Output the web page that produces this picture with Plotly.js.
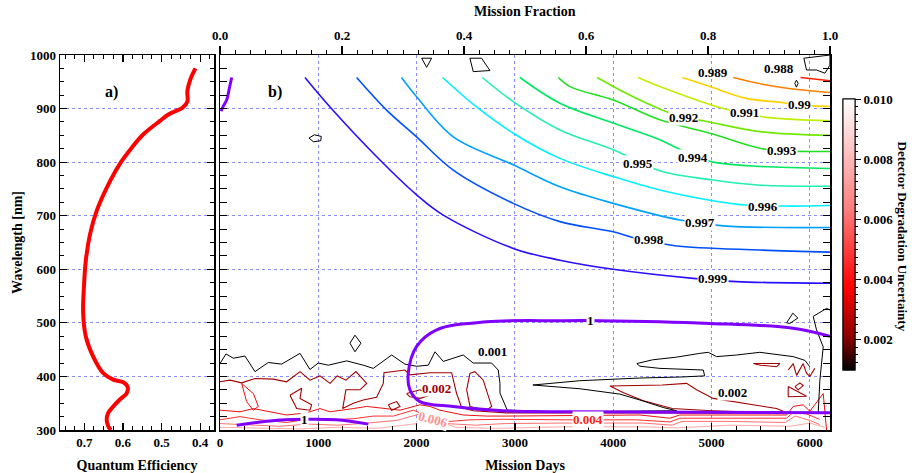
<!DOCTYPE html>
<html><head><meta charset="utf-8">
<script src="https://cdn.plot.ly/plotly-3.0.1.min.js"></script>
<style>html,body{margin:0;padding:0;background:#fff}</style>
</head><body><div id="chart" style="width:923px;height:473px"></div>
<script>
// ---------- Panel a) quantum efficiency ----------
const qeNm  = [975,955,933,913,902,889,877,852,827,800,765,709,666,617,567,518,474,437,406,394,389,381,369,357,344,332,320,307,300];
const qeVal = [0.412,0.425,0.433,0.433,0.445,0.482,0.504,0.547,0.577,0.605,0.633,0.668,0.685,0.696,0.701,0.703,0.696,0.677,0.651,0.625,0.599,0.588,0.590,0.608,0.625,0.638,0.642,0.638,0.631];

// ---------- Panel b) degradation contours (days, nm) ----------
const d1000_days = [6205,5830,4983,3865,3458,2712,2204,2000,1915,1932,2034,2373,2881,3560,6205];
const d1000_nm   = [475,490,499,504,504,502,487,456,406,375,353,344,336,334,332];
const d1000b_days = [170,509,847,1187,1509];
const d1000b_nm   = [309,317,320,319,311];
const d1000c_days = [10,35,68,95,119];
const d1000c_nm   = [895,905,916,938,958];
const d0999_days = [864,1119,1627,2000,2271,2983,3458,4000,4813,5254,6205];
const d0999_nm   = [958,903,804,739,701,639,617,600,583,577,574];
const d0998_days = [1390,1695,2000,2373,2983,3458,4000,4250,4627,5491,6205];
const d0998_nm   = [958,897,847,785,723,689,670,657,644,636,632];
const d0997_days = [1846,2000,2373,2983,3458,4000,4678,5119,6205];
const d0997_nm   = [958,922,847,795,754,723,692,681,678];
const d0996_days = [2264,2610,2983,3458,4000,4474,4983,5339,5763,6205];
const d0996_nm   = [958,903,854,807,773,748,729,720,718,719];
const d0995_days = [2668,2983,3458,4000,4474,5000,5491,6205];
const d0995_nm   = [958,913,860,823,784,767,757,755];
const d0994_days = [3051,3458,4000,4474,4813,5017,5491,6205];
const d0994_nm   = [958,910,873,842,812,800,792,788];
const d0993_days = [3441,3560,4000,4474,4983,5491,5712,6205];
const d0993_nm   = [958,941,916,879,854,826,821,820];
const d0992_days = [3837,4136,4491,4712,4949,5491,6205];
const d0992_nm   = [958,928,898,884,876,857,850];
const d0991_days = [4254,4474,5119,5339,5542,6205];
const d0991_nm   = [958,941,900,892,884,877];
const d0990_days = [4703,4983,5356,5729,5898,6051,6205];
const d0990_nm   = [958,941,919,911,907,905,904];
const d0989_days = [5220,5560,5898,6205];
const d0989_nm   = [958,944,935,930];
const d0988_days = [5905,6205];
const d0988_nm   = [958,952];

// ---------- Panel b) uncertainty contours (days, nm) ----------
const u001a_days = [0,61,135,254,356,491,627,814,915,1000,1101,1289,1457,1559,1746,1881,2000,2119,2187,2271,2474,2576,2763,2830,2848,2848,2922,3458,4644,4508,4271,4068,3661,3183,3661,4271,4700,4930,4916,4475,4272,4240,4400,4644,4881,4966,5051,5254,5491,5831,5950,6000];
const u001a_nm   = [424,442,434,438,409,426,423,443,413,425,421,429,421,415,440,423,419,421,446,428,440,425,425,412,387,369,337,334,336,342,356,367,377,384,392,397,399,401,412,415,419,424,431,436,443,445,437,440,445,437,430,418];
const u001b_days = [6085,6102,6136,6068,6034,6170,6205];
const u001b_nm   = [331,393,455,487,512,527,524];
const u001c_days = [905,960,1030,1025,950,905];
const u001c_nm   = [845,851,848,840,838,845];
const u001d_days = [2051,2153,2102,2051];
const u001d_nm   = [994,994,977,994];
const u001e_days = [2542,2661,2746,2576,2542];
const u001e_nm   = [994,994,971,969,994];
const u001f_days = [5939,6205,6204,6153,6068,5966,5939];
const u001f_nm   = [994,1000,981,966,972,972,994];
const u001g_days = [5864,5847,5864,5881,5864];
const u001g_nm   = [953,947,940,947,953];
const u001h_days = [1373,1434,1373,1322,1373];
const u001h_nm   = [477,462,446,462,477];
const u001i_days = [5763,5827,5878,5797,5763];
const u001i_nm   = [500,518,509,499,500];

const u002a_days = [0,102,220,356,542,678,814,915,1017,1119,1193,1281,1383,1492,1424,1281,1248,1356,1458,1593,1661,1668,1881,1932,2136,2356,2407,2458,2576,2915,4271,6000];
const u002a_nm   = [390,393,388,396,395,390,409,393,401,387,401,393,409,387,375,375,340,350,356,361,387,407,412,403,407,407,368,342,336,332,332,331];
const u002b_days = [2543,2593,2678,2729,2763,2712,2543,2509,2543];
const u002b_nm   = [406,409,393,362,344,337,344,375,406];
const u002c_days = [712,831,814,932,915,780,712];
const u002c_nm   = [365,378,359,347,337,340,365];
const u002d_days = [1712,1797,1831,1746,1712];
const u002d_nm   = [347,353,344,337,347];
const u002e_days = [1898,2034,2136,2034,1932,1898];
const u002e_nm   = [368,375,365,359,362,368];
const u002f_days = [3966,4500,4746,4848,5017,5661,5729,5500,5000,4600,4300,4100,3966];
const u002f_nm   = [382,384,387,375,359,340,335,333,336,340,355,370,382];
const u002g_days = [5424,5695,5661,5500,5424];
const u002g_nm   = [424,424,418,421,424];
const u002h_days = [5780,5831,5865,5932,5966,6000,6050];
const u002h_nm   = [412,424,402,424,406,400,415];
const u002i_days = [5780,5780,5966,5780];
const u002i_nm   = [381,362,363,381];
const u002j_days = [5848,5899,5932,5882,5848];
const u002j_nm   = [381,388,383,375,381];

const u003a_days = [220,339,390,339,271,237,220];
const u003a_nm   = [387,368,344,337,353,375,387];
const u003b_days = [0,203,339,508,678,881,1017,1119,1254,1356,1492,1661,1831,2034,2136,2237,2475,2712,2915,4271,4576,4678,5085,5763,5831,5932,6000,6136,6170];
const u003b_nm   = [337,334,340,334,328,332,340,334,337,340,344,340,337,347,344,337,328,326,326,328,322,328,328,328,344,347,335,368,300];
const u004_days  = [0,203,407,678,881,1119,1356,1559,1763,1966,2136,2339,2543,2881,3500,4237,4576,4678,5085,5763,5831,5966,6100];
const u004_nm    = [319,325,319,314,320,319,321,326,326,337,325,316,319,320,319,319,315,322,322,322,333,330,320];
const u005_days  = [0,300,600,900,1200,1500,1800,2034,2300,2600,2900,3500,4300,4600,4700,5200,5750,5850,6000,6100];
const u005_nm    = [312,310,307,311,309,313,318,330,312,309,312,313,313,309,316,316,314,326,318,310];
const u006_days  = [0,400,800,1200,1600,2000,2170,2400,2800,3500,4300,4650,5200,5800,6000,6150];
const u006_nm    = [305,304,302,305,303,312,319,305,303,306,306,304,309,307,313,305];

// ---------- contour labels ----------
const degLabelText = ['0.999','0.998','0.997','0.996','0.995','0.994','0.993','0.992','0.991','0.99','0.989','0.988','1','1'];
const degLabelDays = [5015,4366,4881,5526,4254,4813,5712,4712,5339,5898,5017,5689,3770,864];
const degLabelNm   = [582,655,687,718,798,809,821,884,892,907,968,975,505,320];
const uncLabelText = ['0.001','0.002','0.002','0.004','0.006'];
const uncLabelVal  = [0.001,0.002,0.002,0.004,0.006];
const uncLabelDays = [2772,2204,5213,3746,2170];
const uncLabelNm   = [446,378,370,319,319];
const uncLabelColor = ['#000000','#a00000','#000000','#ff2020','#ff9090'];

// ---------- ticks ----------
const cbMajorTicks = [0.002,0.004,0.006,0.008,0.010];
const cbMinorTicks = [0.00125,0.0015,0.00175,0.00225,0.0025,0.00275,0.003,0.00325,0.0035,0.00375,0.00425,0.0045,0.00475,0.005,0.00525,0.0055,0.00575,0.00625,0.0065,0.00675,0.007,0.00725,0.0075,0.00775,0.00825,0.0085,0.00875,0.009,0.00925,0.0095,0.00975];
const fractionRange = [0,1];

// ---------- build ----------
const FAM = '"Liberation Serif", "Times New Roman", serif';
const F = {family:FAM, size:13, color:'#000', weight:'bold'};
const traces = [];

traces.push({x:qeVal, y:qeNm, xaxis:'x', yaxis:'y', mode:'lines', line:{color:'#ff0000', width:4, shape:'spline', smoothing:1}, hoverinfo:'skip', showlegend:false});

function addLine(xs, ys, color, width, smooth){
  traces.push({x:xs, y:ys, xaxis:'x2', yaxis:'y2', mode:'lines',
    line:{color:color, width:width, shape: smooth ? 'spline' : 'linear', smoothing: 1},
    hoverinfo:'skip', showlegend:false});
}
// uncertainty first (below)
addLine(u006_days,u006_nm,'#ffaaaa',1,false);
addLine(u005_days,u005_nm,'#ff7070',1,false);
addLine(u004_days,u004_nm,'#ff3030',1,false);
addLine(u003a_days,u003a_nm,'#ee1010',1,false);
addLine(u003b_days,u003b_nm,'#ee1010',1,false);
[[u002a_days,u002a_nm],[u002b_days,u002b_nm],[u002c_days,u002c_nm],[u002d_days,u002d_nm],[u002e_days,u002e_nm],[u002f_days,u002f_nm],[u002g_days,u002g_nm],[u002h_days,u002h_nm],[u002i_days,u002i_nm],[u002j_days,u002j_nm]]
  .forEach(p=>addLine(p[0],p[1],'#a00000',1.1,false));
[[u001a_days,u001a_nm],[u001b_days,u001b_nm],[u001c_days,u001c_nm],[u001d_days,u001d_nm],[u001e_days,u001e_nm],[u001f_days,u001f_nm],[u001g_days,u001g_nm],[u001h_days,u001h_nm],[u001i_days,u001i_nm]]
  .forEach(p=>addLine(p[0],p[1],'#000000',1,false));
// degradation
addLine(d0999_days,d0999_nm,'#2a10ff',1.6,true);
addLine(d0998_days,d0998_nm,'#0050ff',1.6,true);
addLine(d0997_days,d0997_nm,'#00a0ff',1.6,true);
addLine(d0996_days,d0996_nm,'#00f0ff',1.6,true);
addLine(d0995_days,d0995_nm,'#20f0b0',1.6,true);
addLine(d0994_days,d0994_nm,'#00e860',1.6,true);
addLine(d0993_days,d0993_nm,'#20e020',1.6,true);
addLine(d0992_days,d0992_nm,'#70e800',1.6,true);
addLine(d0991_days,d0991_nm,'#c0f000',1.6,true);
addLine(d0990_days,d0990_nm,'#ffd000',1.6,true);
addLine(d0989_days,d0989_nm,'#ff8000',1.6,true);
addLine(d0988_days,d0988_nm,'#ff2000',1.6,true);
addLine(d1000_days,d1000_nm,'#8000ff',3,true);
addLine(d1000b_days,d1000b_nm,'#8000ff',3,true);
addLine(d1000c_days,d1000c_nm,'#8000ff',3,true);

// colour bar carriers (invisible markers at uncertainty label positions)
const cscale = [[0,'#000000'],[0.12,'#8b0000'],[0.3,'#ff0000'],[0.6,'#ff8080'],[1,'#ffffff']];
const cbBase = {x:843/923, xanchor:'left', xpad:0, ypad:0, y:1-234.5/473, yanchor:'middle',
  len:271, lenmode:'pixels', thickness:12, thicknessmode:'pixels', outlinewidth:1, outlinecolor:'#000', ticks:'outside', tickcolor:'#000'};
traces.push({x:uncLabelDays, y:uncLabelNm, xaxis:'x2', yaxis:'y2', mode:'markers', hoverinfo:'skip', showlegend:false,
  marker:{color:uncLabelVal, cmin:0.001, cmax:0.010, colorscale:cscale, opacity:0, showscale:true,
    colorbar:Object.assign({}, cbBase, {tickmode:'array', tickvals:cbMinorTicks, ticktext:cbMinorTicks.map(()=>''), ticklen:3})}});
traces.push({x:uncLabelDays, y:uncLabelNm, xaxis:'x2', yaxis:'y2', mode:'markers', hoverinfo:'skip', showlegend:false,
  marker:{color:uncLabelVal, cmin:0.001, cmax:0.010, colorscale:cscale, opacity:0, showscale:true,
    colorbar:Object.assign({}, cbBase, {tickmode:'array', tickvals:cbMajorTicks, ticktext:cbMajorTicks.map(v=>v.toFixed(3)), ticklen:6, tickfont:F})}});
// top axis carrier
traces.push({x:fractionRange, y:[null,null], xaxis:'x3', yaxis:'y2', mode:'lines', hoverinfo:'skip', showlegend:false});

const annotations = [];
degLabelText.forEach((t,i)=>annotations.push({xref:'x2', yref:'y2', x:degLabelDays[i], y:degLabelNm[i], text:t, showarrow:false,
  font:F, bgcolor:(t==='0.989'||t==='0.988')?'rgba(0,0,0,0)':'#ffffff', borderpad:0}));
uncLabelText.forEach((t,i)=>annotations.push({xref:'x2', yref:'y2', x:uncLabelDays[i], y:uncLabelNm[i], text:t, showarrow:false,
  font:Object.assign({}, F, {color:uncLabelColor[i]}), bgcolor:'#ffffff', borderpad:0, textangle: t==='0.006'?15:0}));
annotations.push({xref:'paper', yref:'paper', x:103/923, y:1-81/473, text:'a)', showarrow:false, font:Object.assign({},F,{size:16})});
annotations.push({xref:'paper', yref:'paper', x:266/923, y:1-81/473, text:'b)', showarrow:false, font:Object.assign({},F,{size:16})});
annotations.push({xref:'paper', yref:'paper', x:912/923, y:1-236/473, text:'Detector Degradation Uncertainty', showarrow:false, textangle:90, font:F});
annotations.push({xref:'paper', yref:'paper', x:525/923, y:1-12/473, yanchor:'middle', text:'Mission Fraction', showarrow:false, font:Object.assign({},F,{size:14})});

const grid = {showgrid:true, gridcolor:'#8c8cff', griddash:'dot', gridwidth:1};
const base = {showline:true, linecolor:'#000', linewidth:1.5, ticks:'inside', ticklen:7, tickwidth:1.2, tickcolor:'#000', tickfont:F, zeroline:false};
const minorIn = (d)=>({ticks:'inside', dtick:d, ticklen:4, tickwidth:1, tickcolor:'#000', showgrid:false});
const T = (s, st)=>({text:s, font:Object.assign({},F,{size:14}), standoff:st});

const layout = {
  width:923, height:473, margin:{l:0,r:0,t:0,b:0}, paper_bgcolor:'#fff', plot_bgcolor:'#fff', showlegend:false,
  xaxis: Object.assign({}, base, {domain:[60/923, 214/923], anchor:'y', range:[0.763,0.364], tickmode:'linear', tick0:0.4, dtick:0.1, tickformat:'.1f', mirror:'allticks', showgrid:false, minor:minorIn(0.025), title:T('Quantum Efficiency')}),
  yaxis: Object.assign({}, base, grid, {domain:[1-430/473, 1-55/473], anchor:'x', range:[300,1000], dtick:100, mirror:'allticks', minor:minorIn(25), title:T('Wavelength [nm]')}),
  xaxis2: Object.assign({}, base, grid, {domain:[220/923, 830/923], anchor:'y2', range:[0,6205], dtick:1000, mirror:true, minor:minorIn(250), title:T('Mission Days')}),
  yaxis2: Object.assign({}, base, grid, {domain:[1-430/473, 1-55/473], anchor:'x2', range:[300,1000], dtick:100, mirror:'allticks', showticklabels:false, minor:minorIn(25)}),
  xaxis3: Object.assign({}, base, {overlaying:'x2', side:'top', anchor:'y2', range:[0,1], dtick:0.2, tickformat:'.1f', ticks:'outside', ticklen:8, showgrid:false,
    minor:{ticks:'outside', dtick:0.025, ticklen:4, tickwidth:1, tickcolor:'#000', showgrid:false}}),
  annotations: annotations
};
Plotly.newPlot('chart', traces, layout, {displayModeBar:false, staticPlot:true});
</script></body></html>
